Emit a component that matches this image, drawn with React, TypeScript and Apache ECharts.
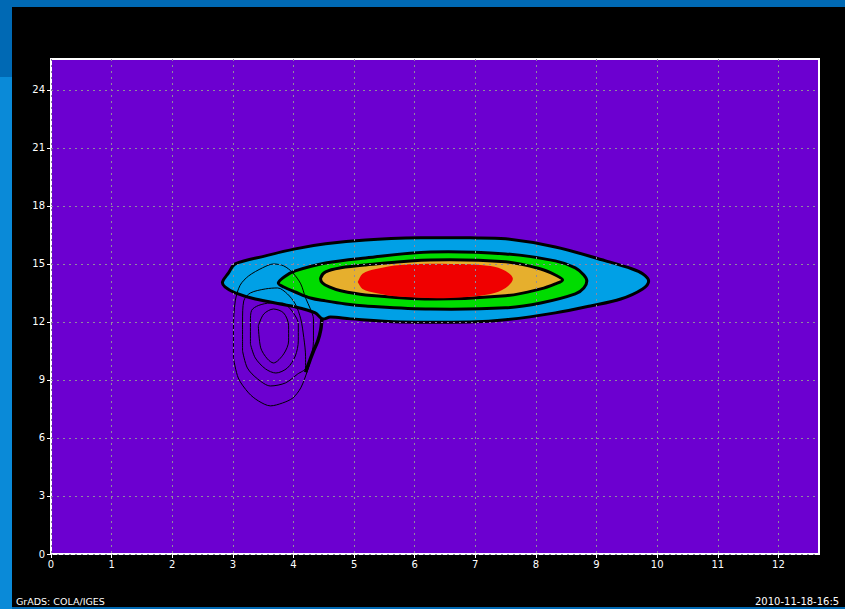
import React, { useEffect, useRef } from "react";
import * as echarts from "echarts";

// Axis ticks
const X_TICKS = [0, 1, 2, 3, 4, 5, 6, 7, 8, 9, 10, 11, 12];
const Y_TICKS = [0, 3, 6, 9, 12, 15, 18, 21, 24];

// Filled contour regions (x, y)
const BLUE_REGION = [
  [2.83, 14.07], [2.93, 14.54], [3.04, 15.0], [3.54, 15.42], [4.03, 15.78], [4.53, 16.04],
  [5.19, 16.24], [6.1, 16.35], [6.92, 16.35], [7.5, 16.3], [8.32, 15.88], [9.15, 15.16],
  [9.59, 14.74], [9.76, 14.49], [9.86, 14.12], [9.76, 13.71], [9.4, 13.19], [8.9, 12.83],
  [8.32, 12.47], [7.5, 12.11], [6.92, 12.0], [5.77, 12.0], [4.94, 12.16], [4.61, 12.26],
  [4.48, 12.16], [4.36, 12.47], [4.03, 12.78], [3.37, 13.19], [3.04, 13.5], [2.87, 13.81],
];
const GREEN_REGION = [
  [3.75, 14.02], [3.87, 14.38], [4.03, 14.64], [4.53, 15.05], [5.19, 15.31], [6.26, 15.62],
  [7.5, 15.52], [8.32, 15.16], [8.65, 14.8], [8.79, 14.43], [8.84, 14.12], [8.79, 13.76],
  [8.65, 13.45], [8.08, 12.98], [7.5, 12.73], [6.26, 12.67], [5.19, 12.83], [4.86, 12.93],
  [4.53, 13.09], [4.28, 13.24], [4.03, 13.55], [3.84, 13.81],
];
const ORANGE_REGION = [
  [4.45, 14.28], [4.53, 14.59], [4.78, 14.8], [5.19, 14.95], [6.26, 15.21], [7.5, 15.11],
  [8.08, 14.74], [8.32, 14.43], [8.44, 14.17], [8.32, 13.97], [8.08, 13.71], [7.5, 13.35],
  [6.26, 13.19], [5.19, 13.4], [4.78, 13.61], [4.59, 13.81], [4.48, 14.02],
];
const RED_REGION = [
  [5.06, 14.07], [5.14, 14.49], [5.36, 14.74], [5.77, 14.95], [6.59, 15.0], [7.25, 14.9],
  [7.5, 14.64], [7.62, 14.23], [7.5, 13.76], [7.25, 13.45], [6.59, 13.24], [5.77, 13.3],
  [5.36, 13.5], [5.14, 13.71], [5.06, 14.07],
];

// Unfilled contour lines of the second field
const RING_1 = [
  [3.42, 11.8], [3.51, 12.41], [3.67, 12.67], [3.84, 12.46], [3.92, 11.8], [3.92, 11.02],
  [3.84, 10.35], [3.67, 9.88], [3.57, 10.09], [3.46, 10.66], [3.42, 11.8],
];
const RING_2 = [
  [3.29, 10.86], [3.29, 12.05], [3.31, 12.6], [3.42, 12.85], [3.62, 12.98], [3.82, 12.98],
  [3.95, 12.67], [4.05, 12.2], [4.08, 11.9], [4.08, 11.02], [4.03, 10.24], [3.9, 9.62],
  [3.71, 9.36], [3.54, 9.57], [3.37, 10.14], [3.29, 10.86],
];
const RING_3 = [
  [3.16, 10.5], [3.16, 12.05], [3.18, 13.09], [3.29, 13.5], [3.54, 13.71], [3.74, 13.76],
  [3.9, 13.45], [4.03, 12.93], [4.12, 12.16], [4.17, 11.2], [4.2, 10.2], [4.2, 9.62],
  [4.07, 9.31], [3.87, 8.85], [3.62, 8.69], [3.41, 9.05], [3.24, 9.62], [3.16, 10.5],
];
const RING_4 = [
  [3.01, 10.14], [3.01, 11.69], [3.04, 13.09], [3.12, 13.9], [3.26, 14.38], [3.49, 14.8],
  [3.67, 15.0], [3.84, 14.9], [3.99, 14.54], [4.12, 13.97], [4.2, 13.24], [4.28, 12.67],
  [4.33, 12.16], [4.33, 11.0], [4.28, 10.0], [4.23, 9.47], [4.12, 8.59], [3.99, 8.07],
  [3.82, 7.81], [3.62, 7.66], [3.42, 7.92], [3.26, 8.33], [3.09, 9.1], [3.01, 10.14],
];
const TAIL = [
  [4.47, 12.2], [4.45, 11.6], [4.4, 11.0], [4.33, 10.5], [4.27, 10.0], [4.2, 9.4],
];

const FOOT_LEFT = "GrADS: COLA/IGES";
const FOOT_RIGHT = "2010-11-18-16:5";

function polygonSeries(points: number[][], fill: string, stroke: string | null, lw: number) {
  return {
    type: "custom",
    coordinateSystem: "cartesian2d",
    silent: true,
    z: 2,
    encode: { x: 0, y: 1 },
    data: points,
    renderItem: (params: any, api: any) => {
      if (params.dataIndex !== 0) return null;
      const pts = points.map((p) => api.coord(p));
      return {
        type: "polygon",
        shape: { points: pts, smooth: 0.35 },
        style: { fill, stroke: stroke || "none", lineWidth: lw },
      };
    },
  };
}

function lineSeries(points: number[][], width: number) {
  return {
    type: "line",
    data: points,
    showSymbol: false,
    symbol: "none",
    smooth: 0.3,
    silent: true,
    z: 3,
    lineStyle: { color: "#000", width },
  };
}

export default function App() {
  const ref = useRef<HTMLDivElement>(null);
  useEffect(() => {
    if (!ref.current) return;
    const chart = echarts.init(ref.current, undefined, { renderer: "svg" });
    const gridLine = { show: true, lineStyle: { color: "#8f8a9e", type: [2, 4], width: 1 } };
    chart.setOption({
      animation: false,
      grid: {
        left: 51,
        top: 59,
        width: 768,
        height: 495,
        show: true,
        backgroundColor: "#6c00d0",
        borderColor: "#ffffff",
        borderWidth: 2,
      },
      xAxis: {
        type: "value",
        min: 0,
        max: 12.67,
        interval: 1,
        z: 5,
        axisLine: { show: false },
        axisTick: { show: true, length: 4, lineStyle: { color: "#fff" }, customValues: X_TICKS },
        axisLabel: {
          color: "#fff",
          fontFamily: "DejaVu Sans",
          fontSize: 10,
          margin: 5,
          customValues: X_TICKS,
        },
        splitLine: gridLine,
      },
      yAxis: {
        type: "value",
        min: 0,
        max: 25.6,
        interval: 3,
        z: 5,
        axisLine: { show: false },
        axisTick: { show: true, length: 4, lineStyle: { color: "#fff" }, customValues: Y_TICKS },
        axisLabel: {
          color: "#fff",
          fontFamily: "DejaVu Sans",
          fontSize: 10,
          margin: 6,
          customValues: Y_TICKS,
        },
        splitLine: gridLine,
      },
      graphic: [
        {
          type: "text",
          left: 16,
          top: 596,
          style: { text: FOOT_LEFT, fill: "#fff", font: "9.5px DejaVu Sans" },
        },
        {
          type: "text",
          left: 755,
          top: 596,
          style: { text: FOOT_RIGHT, fill: "#fff", font: "10px DejaVu Sans" },
        },
      ],
      series: [
        polygonSeries(BLUE_REGION, "#00a0e6", "#000", 3),
        polygonSeries(GREEN_REGION, "#00dc00", "#000", 3),
        polygonSeries(ORANGE_REGION, "#e6af2d", "#000", 3),
        polygonSeries(RED_REGION, "#f00000", null, 0),
        lineSeries(RING_1, 1),
        lineSeries(RING_2, 1),
        lineSeries(RING_3, 1),
        lineSeries(RING_4, 1),
        lineSeries(TAIL, 3.5),
      ],
    });
    return () => chart.dispose();
  }, []);

  return (
    <div
      style={{
        position: "fixed",
        left: 0,
        top: 0,
        width: 845,
        height: 609,
        background: "#0069b4",
        overflow: "hidden",
      }}
    >
      <div style={{ position: "absolute", left: 0, top: 77, width: 12, height: 532, background: "#0a8ad8" }} />
      <div style={{ position: "absolute", left: 12, top: 7, width: 833, height: 600, background: "#000" }} />
      <div ref={ref} style={{ position: "absolute", left: 0, top: 0, width: 845, height: 609 }} />
    </div>
  );
}
